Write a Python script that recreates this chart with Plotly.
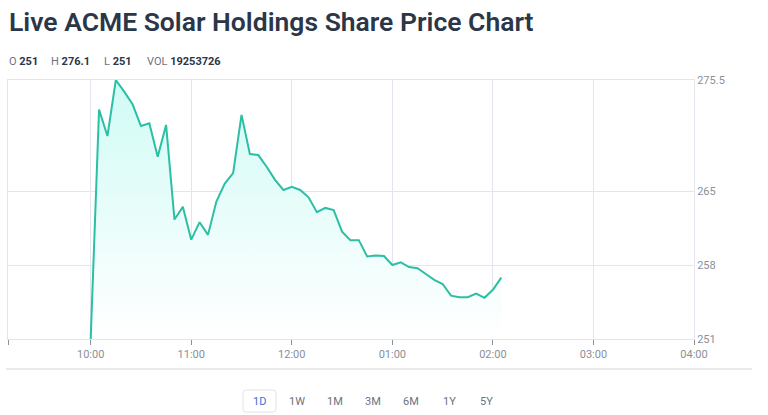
import plotly.graph_objects as go
import pandas as pd

# ---- data ----
times = pd.date_range("2024-01-01 10:00", periods=50, freq="5min")
prices = [251.0, 272.7, 270.2, 275.5, 274.4, 273.2, 271.15, 271.4, 268.25, 271.25,
          262.3, 263.5, 260.4, 262.05, 260.85, 264.0, 265.7, 266.7, 272.2, 268.5,
          268.4, 267.3, 266.05, 265.1, 265.4, 265.1, 264.4, 263.0, 263.4, 263.2,
          261.15, 260.35, 260.35, 258.8, 258.9, 258.85, 258.0, 258.25, 257.8, 257.7,
          257.15, 256.6, 256.2, 255.1, 254.95, 254.95, 255.3, 254.9, 255.65, 256.8]

x_tick_vals = ["2024-01-01 09:10:40", "2024-01-01 10:00", "2024-01-01 11:00", "2024-01-01 12:00",
               "2024-01-01 13:00", "2024-01-01 14:00", "2024-01-01 15:00", "2024-01-01 16:00"]
x_tick_text = ["", "10:00", "11:00", "12:00", "01:00", "02:00", "03:00", "04:00"]
y_tick_vals = [251, 258, 265, 275.5]
y_tick_text = ["251", "258", "265", "275.5"]

title_text = "Live ACME Solar Holdings Share Price Chart"
ohlc_labels = ["O", "H", "L", "VOL"]
ohlc_values = ["251", "276.1", "251", "19253726"]
ranges = ["1D", "1W", "1M", "3M", "6M", "1Y", "5Y"]

# ---- layout geometry (pixels) ----
W, H = 768, 415
L, R, T, B = 8, 694, 80, 339


def px_x(x):
    return (x - L) / (R - L)


def px_y(y):
    return (B - y) / (B - T)


LINE = "#2bbfa4"
GRID = "#e4e4ee"
FONT = "Roboto"

fig = go.Figure()
fig.add_trace(go.Scatter(
    x=times, y=prices, mode="lines",
    line=dict(color=LINE, width=2),
    fill="tozeroy",
    fillgradient=dict(type="vertical", start=275.5, stop=251,
                      colorscale=[[0, "rgba(208,251,245,1)"], [1, "rgba(255,255,255,1)"]]),
    hoverinfo="skip", showlegend=False,
))

annotations = []
# title
annotations.append(dict(
    x=px_x(7), y=px_y(21), xref="paper", yref="paper", xanchor="left", yanchor="middle",
    text=title_text, showarrow=False,
    font=dict(family=FONT, size=26.5, color="#2b3648", weight=600),
))
# OHLC row
ohlc_x = [7, 49, 102, 145]
for xx, lab, val in zip(ohlc_x, ohlc_labels, ohlc_values):
    annotations.append(dict(
        x=px_x(xx), y=px_y(62), xref="paper", yref="paper", xanchor="left", yanchor="middle",
        text=f"<span style='color:#6b7280'>{lab}</span> <b>{val}</b>", showarrow=False,
        font=dict(family=FONT, size=11, color="#2b3648"),
    ))
# range buttons
btn_x = [259, 297, 335, 373, 411, 449, 486]
for xx, lab in zip(btn_x, ranges):
    annotations.append(dict(
        x=px_x(xx), y=px_y(401), xref="paper", yref="paper", xanchor="center", yanchor="middle",
        text=lab, showarrow=False,
        font=dict(family=FONT, size=11, color="#3d6fd6" if lab == "1D" else "#6b7280"),
    ))

shapes = []
# separator line
shapes.append(dict(type="line", xref="paper", yref="paper",
                   x0=px_x(6), x1=px_x(752), y0=px_y(369), y1=px_y(369),
                   line=dict(color="#e2e2e8", width=1.5)))
# rounded box around 1D
x0, x1, y0, y1, r = 243, 276, 390, 412, 3
def P(x, y):
    return f"{px_x(x)},{px_y(y)}"
path = (f"M {P(x0 + r, y0)} L {P(x1 - r, y0)} Q {P(x1, y0)} {P(x1, y0 + r)} "
        f"L {P(x1, y1 - r)} Q {P(x1, y1)} {P(x1 - r, y1)} L {P(x0 + r, y1)} "
        f"Q {P(x0, y1)} {P(x0, y1 - r)} L {P(x0, y0 + r)} Q {P(x0, y0)} {P(x0 + r, y0)} Z")
shapes.append(dict(type="path", xref="paper", yref="paper", path=path,
                   line=dict(color="#dfe3ea", width=1), fillcolor="rgba(0,0,0,0)"))

fig.update_layout(
    width=W, height=H,
    margin=dict(l=L, r=W - R, t=T, b=H - B),
    paper_bgcolor="white", plot_bgcolor="white",
    annotations=annotations, shapes=shapes,
    xaxis=dict(
        range=["2024-01-01 09:10:40", "2024-01-01 16:00"],
        tickmode="array", tickvals=x_tick_vals, ticktext=x_tick_text,
        showgrid=True, gridcolor=GRID, gridwidth=1,
        showline=True, linecolor=GRID, linewidth=1, mirror=True,
        ticks="outside", ticklen=5, tickcolor="#8a8f99", tickwidth=1,
        tickfont=dict(family=FONT, size=11, color="#8a8f99"),
        zeroline=False, fixedrange=True,
    ),
    yaxis=dict(
        range=[251, 275.5], side="right",
        tickmode="array", tickvals=y_tick_vals, ticktext=y_tick_text,
        showgrid=True, gridcolor=GRID, gridwidth=1,
        showline=True, linecolor=GRID, linewidth=1, mirror=True,
        ticks="", tickfont=dict(family=FONT, size=11, color="#8a8f99"),
        zeroline=False, fixedrange=True,
    ),
)

fig.write_html("out.html", config=dict(displayModeBar=False),
               post_script="document.body.style.margin='0';")
